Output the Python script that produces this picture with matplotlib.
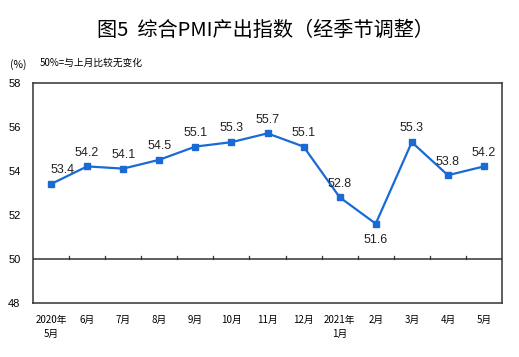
import matplotlib
matplotlib.use("Agg")
import matplotlib.pyplot as plt

plt.rcParams['font.family'] = ['Noto Sans CJK SC', 'DejaVu Sans']

categories = ["2020年\n5月", "6月", "7月", "8月", "9月", "10月", "11月", "12月",
              "2021年\n1月", "2月", "3月", "4月", "5月"]
values = [53.4, 54.2, 54.1, 54.5, 55.1, 55.3, 55.7, 55.1, 52.8, 51.6, 55.3, 53.8, 54.2]
yticks = [48, 50, 52, 54, 56, 58]

fig = plt.figure(figsize=(5.19, 3.57), dpi=100)
ax = fig.add_axes([33/519, 1-303/357, (502-33)/519, (303-82.7)/357])

x = list(range(len(values)))
line_color = "#1a6ad6"
ax.plot(x, values, color=line_color, lw=1.6, marker="s", ms=4.2, zorder=3)

ax.set_xlim(-0.5, len(values)-0.5)
ax.set_ylim(48, 58)
ax.set_yticks(yticks)
ax.set_yticklabels([str(t) for t in yticks], fontsize=8, family=['Liberation Sans'])
ax.tick_params(axis='y', length=0, pad=9)
ax.set_xticks([])

for s in ax.spines.values():
    s.set_color("#333333")
    s.set_linewidth(1.1)

# baseline at 50 with ticks between categories
ax.axhline(50, color="#333333", lw=1.1, zorder=2)
for i in range(1, len(values)):
    ax.plot([i-0.5, i-0.5], [50, 50.12], color="#333333", lw=0.9, zorder=2)

# category labels
for i, c in enumerate(categories):
    ax.text(i, 47.45, c, ha="center", va="top", fontsize=7, linespacing=1.45)

# value labels
offsets = {0: (0.33, 0.35), 9: (0, -0.45)}
for i, v in enumerate(values):
    dx, dy = offsets.get(i, (0, 0.35))
    ax.text(i+dx, v+dy, f"{v:.1f}", ha="center",
            va="bottom" if dy > 0 else "top", fontsize=9, color="#222222",
            family=['Liberation Sans'])

fig.text(265/519, 1-30/357, "图5  综合PMI产出指数（经季节调整）", ha="center", va="center",
         fontsize=14.5, fontweight="medium")
fig.text(18/519, 1-65/357, "(%)", ha="center", va="center", fontsize=7.5)
fig.text(40/519, 1-63/357, "50%=与上月比较无变化", ha="left", va="center", fontsize=7)

fig.savefig("out.png", dpi=100)
